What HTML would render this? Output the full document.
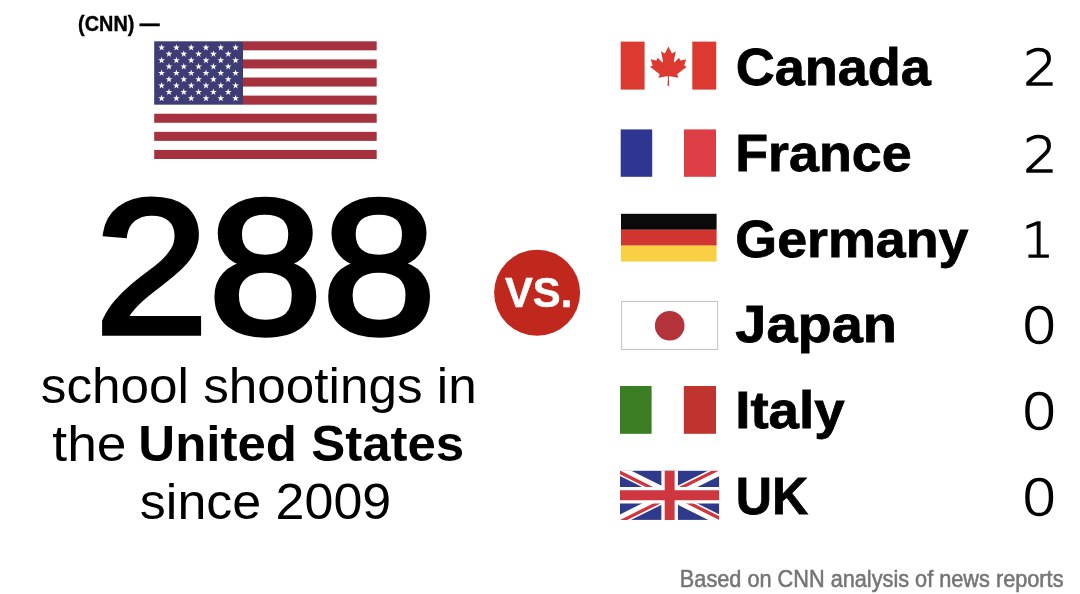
<!DOCTYPE html>
<html lang="en"><head><meta charset="utf-8"><title>School shootings: US vs. other countries</title>
<style>
html,body{margin:0;padding:0;background:#fff}
body{width:1080px;height:594px;overflow:hidden}
svg{display:block}
text{font-family:"Liberation Sans",Arial,Helvetica,sans-serif}
text.num{font-family:"DejaVu Sans Light","DejaVu Sans","Liberation Sans",sans-serif;font-weight:200;stroke:#000;stroke-width:1.3}
</style></head><body>
<svg width="1080" height="594" viewBox="0 0 1080 594">
<rect width="1080" height="594" fill="#fff"/>
<g id="us">
<rect x="154.2" y="41.3" width="222.5" height="117.7" fill="#fff"/>
<rect x="243.0" y="41.30" width="133.7" height="9.05" fill="#A7323F"/>
<rect x="243.0" y="59.41" width="133.7" height="9.05" fill="#A7323F"/>
<rect x="243.0" y="77.52" width="133.7" height="9.05" fill="#A7323F"/>
<rect x="243.0" y="95.62" width="133.7" height="9.05" fill="#A7323F"/>
<rect x="154.2" y="113.73" width="222.5" height="9.05" fill="#A7323F"/>
<rect x="154.2" y="131.84" width="222.5" height="9.05" fill="#A7323F"/>
<rect x="154.2" y="149.95" width="222.5" height="9.05" fill="#A7323F"/>
<rect x="154.2" y="41.3" width="88.8" height="63.38" fill="#3E3C74"/>
<g fill="#fff">
<polygon points="161.60,44.04 162.41,46.53 165.02,46.53 162.91,48.06 163.72,50.55 161.60,49.01 159.48,50.55 160.29,48.06 158.18,46.53 160.79,46.53"/>
<polygon points="176.40,44.04 177.21,46.53 179.82,46.53 177.71,48.06 178.52,50.55 176.40,49.01 174.28,50.55 175.09,48.06 172.98,46.53 175.59,46.53"/>
<polygon points="191.20,44.04 192.01,46.53 194.62,46.53 192.51,48.06 193.32,50.55 191.20,49.01 189.08,50.55 189.89,48.06 187.78,46.53 190.39,46.53"/>
<polygon points="206.00,44.04 206.81,46.53 209.42,46.53 207.31,48.06 208.12,50.55 206.00,49.01 203.88,50.55 204.69,48.06 202.58,46.53 205.19,46.53"/>
<polygon points="220.80,44.04 221.61,46.53 224.22,46.53 222.11,48.06 222.92,50.55 220.80,49.01 218.68,50.55 219.49,48.06 217.38,46.53 219.99,46.53"/>
<polygon points="235.60,44.04 236.41,46.53 239.02,46.53 236.91,48.06 237.72,50.55 235.60,49.01 233.48,50.55 234.29,48.06 232.18,46.53 234.79,46.53"/>
<polygon points="169.00,50.38 169.81,52.86 172.42,52.86 170.31,54.40 171.12,56.89 169.00,55.35 166.88,56.89 167.69,54.40 165.58,52.86 168.19,52.86"/>
<polygon points="183.80,50.38 184.61,52.86 187.22,52.86 185.11,54.40 185.92,56.89 183.80,55.35 181.68,56.89 182.49,54.40 180.38,52.86 182.99,52.86"/>
<polygon points="198.60,50.38 199.41,52.86 202.02,52.86 199.91,54.40 200.72,56.89 198.60,55.35 196.48,56.89 197.29,54.40 195.18,52.86 197.79,52.86"/>
<polygon points="213.40,50.38 214.21,52.86 216.82,52.86 214.71,54.40 215.52,56.89 213.40,55.35 211.28,56.89 212.09,54.40 209.98,52.86 212.59,52.86"/>
<polygon points="228.20,50.38 229.01,52.86 231.62,52.86 229.51,54.40 230.32,56.89 228.20,55.35 226.08,56.89 226.89,54.40 224.78,52.86 227.39,52.86"/>
<polygon points="161.60,56.71 162.41,59.20 165.02,59.20 162.91,60.74 163.72,63.23 161.60,61.69 159.48,63.23 160.29,60.74 158.18,59.20 160.79,59.20"/>
<polygon points="176.40,56.71 177.21,59.20 179.82,59.20 177.71,60.74 178.52,63.23 176.40,61.69 174.28,63.23 175.09,60.74 172.98,59.20 175.59,59.20"/>
<polygon points="191.20,56.71 192.01,59.20 194.62,59.20 192.51,60.74 193.32,63.23 191.20,61.69 189.08,63.23 189.89,60.74 187.78,59.20 190.39,59.20"/>
<polygon points="206.00,56.71 206.81,59.20 209.42,59.20 207.31,60.74 208.12,63.23 206.00,61.69 203.88,63.23 204.69,60.74 202.58,59.20 205.19,59.20"/>
<polygon points="220.80,56.71 221.61,59.20 224.22,59.20 222.11,60.74 222.92,63.23 220.80,61.69 218.68,63.23 219.49,60.74 217.38,59.20 219.99,59.20"/>
<polygon points="235.60,56.71 236.41,59.20 239.02,59.20 236.91,60.74 237.72,63.23 235.60,61.69 233.48,63.23 234.29,60.74 232.18,59.20 234.79,59.20"/>
<polygon points="169.00,63.05 169.81,65.54 172.42,65.54 170.31,67.08 171.12,69.56 169.00,68.03 166.88,69.56 167.69,67.08 165.58,65.54 168.19,65.54"/>
<polygon points="183.80,63.05 184.61,65.54 187.22,65.54 185.11,67.08 185.92,69.56 183.80,68.03 181.68,69.56 182.49,67.08 180.38,65.54 182.99,65.54"/>
<polygon points="198.60,63.05 199.41,65.54 202.02,65.54 199.91,67.08 200.72,69.56 198.60,68.03 196.48,69.56 197.29,67.08 195.18,65.54 197.79,65.54"/>
<polygon points="213.40,63.05 214.21,65.54 216.82,65.54 214.71,67.08 215.52,69.56 213.40,68.03 211.28,69.56 212.09,67.08 209.98,65.54 212.59,65.54"/>
<polygon points="228.20,63.05 229.01,65.54 231.62,65.54 229.51,67.08 230.32,69.56 228.20,68.03 226.08,69.56 226.89,67.08 224.78,65.54 227.39,65.54"/>
<polygon points="161.60,69.39 162.41,71.88 165.02,71.88 162.91,73.41 163.72,75.90 161.60,74.36 159.48,75.90 160.29,73.41 158.18,71.88 160.79,71.88"/>
<polygon points="176.40,69.39 177.21,71.88 179.82,71.88 177.71,73.41 178.52,75.90 176.40,74.36 174.28,75.90 175.09,73.41 172.98,71.88 175.59,71.88"/>
<polygon points="191.20,69.39 192.01,71.88 194.62,71.88 192.51,73.41 193.32,75.90 191.20,74.36 189.08,75.90 189.89,73.41 187.78,71.88 190.39,71.88"/>
<polygon points="206.00,69.39 206.81,71.88 209.42,71.88 207.31,73.41 208.12,75.90 206.00,74.36 203.88,75.90 204.69,73.41 202.58,71.88 205.19,71.88"/>
<polygon points="220.80,69.39 221.61,71.88 224.22,71.88 222.11,73.41 222.92,75.90 220.80,74.36 218.68,75.90 219.49,73.41 217.38,71.88 219.99,71.88"/>
<polygon points="235.60,69.39 236.41,71.88 239.02,71.88 236.91,73.41 237.72,75.90 235.60,74.36 233.48,75.90 234.29,73.41 232.18,71.88 234.79,71.88"/>
<polygon points="169.00,75.73 169.81,78.21 172.42,78.21 170.31,79.75 171.12,82.24 169.00,80.70 166.88,82.24 167.69,79.75 165.58,78.21 168.19,78.21"/>
<polygon points="183.80,75.73 184.61,78.21 187.22,78.21 185.11,79.75 185.92,82.24 183.80,80.70 181.68,82.24 182.49,79.75 180.38,78.21 182.99,78.21"/>
<polygon points="198.60,75.73 199.41,78.21 202.02,78.21 199.91,79.75 200.72,82.24 198.60,80.70 196.48,82.24 197.29,79.75 195.18,78.21 197.79,78.21"/>
<polygon points="213.40,75.73 214.21,78.21 216.82,78.21 214.71,79.75 215.52,82.24 213.40,80.70 211.28,82.24 212.09,79.75 209.98,78.21 212.59,78.21"/>
<polygon points="228.20,75.73 229.01,78.21 231.62,78.21 229.51,79.75 230.32,82.24 228.20,80.70 226.08,82.24 226.89,79.75 224.78,78.21 227.39,78.21"/>
<polygon points="161.60,82.06 162.41,84.55 165.02,84.55 162.91,86.09 163.72,88.58 161.60,87.04 159.48,88.58 160.29,86.09 158.18,84.55 160.79,84.55"/>
<polygon points="176.40,82.06 177.21,84.55 179.82,84.55 177.71,86.09 178.52,88.58 176.40,87.04 174.28,88.58 175.09,86.09 172.98,84.55 175.59,84.55"/>
<polygon points="191.20,82.06 192.01,84.55 194.62,84.55 192.51,86.09 193.32,88.58 191.20,87.04 189.08,88.58 189.89,86.09 187.78,84.55 190.39,84.55"/>
<polygon points="206.00,82.06 206.81,84.55 209.42,84.55 207.31,86.09 208.12,88.58 206.00,87.04 203.88,88.58 204.69,86.09 202.58,84.55 205.19,84.55"/>
<polygon points="220.80,82.06 221.61,84.55 224.22,84.55 222.11,86.09 222.92,88.58 220.80,87.04 218.68,88.58 219.49,86.09 217.38,84.55 219.99,84.55"/>
<polygon points="235.60,82.06 236.41,84.55 239.02,84.55 236.91,86.09 237.72,88.58 235.60,87.04 233.48,88.58 234.29,86.09 232.18,84.55 234.79,84.55"/>
<polygon points="169.00,88.40 169.81,90.89 172.42,90.89 170.31,92.43 171.12,94.91 169.00,93.38 166.88,94.91 167.69,92.43 165.58,90.89 168.19,90.89"/>
<polygon points="183.80,88.40 184.61,90.89 187.22,90.89 185.11,92.43 185.92,94.91 183.80,93.38 181.68,94.91 182.49,92.43 180.38,90.89 182.99,90.89"/>
<polygon points="198.60,88.40 199.41,90.89 202.02,90.89 199.91,92.43 200.72,94.91 198.60,93.38 196.48,94.91 197.29,92.43 195.18,90.89 197.79,90.89"/>
<polygon points="213.40,88.40 214.21,90.89 216.82,90.89 214.71,92.43 215.52,94.91 213.40,93.38 211.28,94.91 212.09,92.43 209.98,90.89 212.59,90.89"/>
<polygon points="228.20,88.40 229.01,90.89 231.62,90.89 229.51,92.43 230.32,94.91 228.20,93.38 226.08,94.91 226.89,92.43 224.78,90.89 227.39,90.89"/>
<polygon points="161.60,94.74 162.41,97.23 165.02,97.23 162.91,98.76 163.72,101.25 161.60,99.71 159.48,101.25 160.29,98.76 158.18,97.23 160.79,97.23"/>
<polygon points="176.40,94.74 177.21,97.23 179.82,97.23 177.71,98.76 178.52,101.25 176.40,99.71 174.28,101.25 175.09,98.76 172.98,97.23 175.59,97.23"/>
<polygon points="191.20,94.74 192.01,97.23 194.62,97.23 192.51,98.76 193.32,101.25 191.20,99.71 189.08,101.25 189.89,98.76 187.78,97.23 190.39,97.23"/>
<polygon points="206.00,94.74 206.81,97.23 209.42,97.23 207.31,98.76 208.12,101.25 206.00,99.71 203.88,101.25 204.69,98.76 202.58,97.23 205.19,97.23"/>
<polygon points="220.80,94.74 221.61,97.23 224.22,97.23 222.11,98.76 222.92,101.25 220.80,99.71 218.68,101.25 219.49,98.76 217.38,97.23 219.99,97.23"/>
<polygon points="235.60,94.74 236.41,97.23 239.02,97.23 236.91,98.76 237.72,101.25 235.60,99.71 233.48,101.25 234.29,98.76 232.18,97.23 234.79,97.23"/>
</g></g>
<circle cx="537.1" cy="292.8" r="43" fill="#C0281E"/>
<text id="t_cnn" x="78.09" y="31.30" font-size="21.3" font-weight="700" stroke="#000" stroke-width="0.4" textLength="81.66" lengthAdjust="spacingAndGlyphs">(CNN) —</text>
<text id="t_288" x="94.82" y="332.80" font-size="191.5" stroke="#000" stroke-width="5.5" stroke-linejoin="miter" textLength="341.16" lengthAdjust="spacingAndGlyphs">288</text>
<text id="t_l1" x="40.83" y="402.50" font-size="49.5"  textLength="435.85" lengthAdjust="spacingAndGlyphs">school shootings in</text>
<text id="t_l2a" x="52.37" y="461.00" font-size="49.5"  textLength="74.13" lengthAdjust="spacingAndGlyphs">the</text>
<text id="t_l2b" x="138.36" y="461.20" font-size="50" font-weight="700" textLength="325.86" lengthAdjust="spacingAndGlyphs">United States</text>
<text id="t_l3" x="139.88" y="519.30" font-size="50"  textLength="251.31" lengthAdjust="spacingAndGlyphs">since 2009</text>
<text id="t_vs" x="505.00" y="307.30" font-size="43" font-weight="700" fill="#fff" stroke="#fff" stroke-width="0.5" textLength="67.30" lengthAdjust="spacingAndGlyphs">VS.</text>
<text id="t_canada" x="735.68" y="85.00" font-size="52.5" font-weight="700" stroke="#000" stroke-width="0.8" textLength="195.22" lengthAdjust="spacingAndGlyphs">Canada</text>
<text id="t_france" x="735.26" y="170.90" font-size="52.5" font-weight="700" stroke="#000" stroke-width="0.8" textLength="176.33" lengthAdjust="spacingAndGlyphs">France</text>
<text id="t_germany" x="735.37" y="257.00" font-size="52.5" font-weight="700" stroke="#000" stroke-width="0.8" textLength="233.18" lengthAdjust="spacingAndGlyphs">Germany</text>
<text id="t_japan" x="735.38" y="342.40" font-size="52.5" font-weight="700" stroke="#000" stroke-width="0.8" textLength="161.45" lengthAdjust="spacingAndGlyphs">Japan</text>
<text id="t_italy" x="735.23" y="428.40" font-size="52.5" font-weight="700" stroke="#000" stroke-width="0.8" textLength="109.38" lengthAdjust="spacingAndGlyphs">Italy</text>
<text id="t_uk" x="735.69" y="514.10" font-size="52.5" font-weight="700" stroke="#000" stroke-width="0.8" textLength="72.51" lengthAdjust="spacingAndGlyphs">UK</text>
<text id="t_n1" x="1023.24" y="85.00" font-size="49" class="num" textLength="34.07" lengthAdjust="spacingAndGlyphs">2</text>
<text id="t_n2" x="1023.24" y="171.50" font-size="49" class="num" textLength="34.07" lengthAdjust="spacingAndGlyphs">2</text>
<text id="t_n3" x="1021.52" y="257.00" font-size="47.6" class="num" textLength="32.68" lengthAdjust="spacingAndGlyphs">1</text>
<text id="t_n4" x="1020.84" y="342.70" font-size="49" class="num" textLength="37.10" lengthAdjust="spacingAndGlyphs">0</text>
<text id="t_n5" x="1020.84" y="428.60" font-size="49" class="num" textLength="37.10" lengthAdjust="spacingAndGlyphs">0</text>
<text id="t_n6" x="1020.84" y="514.50" font-size="49" class="num" textLength="37.10" lengthAdjust="spacingAndGlyphs">0</text>
<text id="t_foot" x="679.84" y="587.30" font-size="24" fill="#757575" stroke="#757575" stroke-width="0.55" textLength="383.66" lengthAdjust="spacingAndGlyphs">Based on CNN analysis of news reports</text>
<g id="ca"><rect x="620.7" y="41.6" width="23.9" height="48" fill="#DC3A30"/><rect x="692.3" y="41.6" width="23.9" height="48" fill="#DC3A30"/>
<path d="M4890 4430l-45-863a95 95 0 0 1 111-98l859 151-116-320a65 65 0 0 1 20-73l941-762-212-99a65 65 0 0 1-34-79l186-572-542 115a65 65 0 0 1-73-38l-105-247-423 454a65 65 0 0 1-111-57l204-1052-327 189a65 65 0 0 1-91-27l-332-652-332 652a65 65 0 0 1-91 27l-327-189 204 1052a65 65 0 0 1-111 57l-423-454-105 247a65 65 0 0 1-73 38l-542-115 186 572a65 65 0 0 1-34 79l-212 99 941 762a65 65 0 0 1 20 73l-116 320 859-151a95 95 0 0 1 111 98l-45 863z" fill="#DC3A30" transform="translate(668.4,46.6) scale(0.00985,0.0097) translate(-4800,-400)"/></g>
<g id="fr"><rect x="620.7" y="129.4" width="31.5" height="47.4" fill="#2E3691"/><rect x="684" y="129.4" width="32" height="47.4" fill="#DD3E46"/></g>
<g id="de"><rect x="621" y="213.8" width="95.6" height="16" fill="#0A0A0A"/><rect x="621" y="229.7" width="95.6" height="16" fill="#D0352F"/><rect x="621" y="245.6" width="95.6" height="16" fill="#F9D044"/></g>
<g id="jp"><rect x="621.6" y="301.5" width="96" height="48" fill="#fff" stroke="#C4C4C4" stroke-width="1"/><circle cx="669.7" cy="325.7" r="14.8" fill="#B4323A"/></g>
<g id="it"><rect x="620" y="386" width="31.6" height="47.8" fill="#3A7D22"/><rect x="683.8" y="386" width="32.2" height="47.8" fill="#C1332E"/></g>
<g id="uk" transform="translate(620,470.6) scale(1.655,1.643)"><clipPath id="c"><rect width="60" height="30"/></clipPath><clipPath id="t"><path d="M30,15 h30 v15 z v15 h-30 z h-30 v-15 z v-15 h30 z"/></clipPath>
<g clip-path="url(#c)"><rect width="60" height="30" fill="#2F3A8C"/><path d="M0,0 L60,30 M60,0 L0,30" stroke="#fff" stroke-width="6"/><path d="M0,0 L60,30 M60,0 L0,30" clip-path="url(#t)" stroke="#CE3640" stroke-width="4"/><path d="M30,0 v30 M0,15 h60" stroke="#fff" stroke-width="10"/><path d="M30,0 v30 M0,15 h60" stroke="#CE3640" stroke-width="6"/></g></g>
</svg>
</body></html>
